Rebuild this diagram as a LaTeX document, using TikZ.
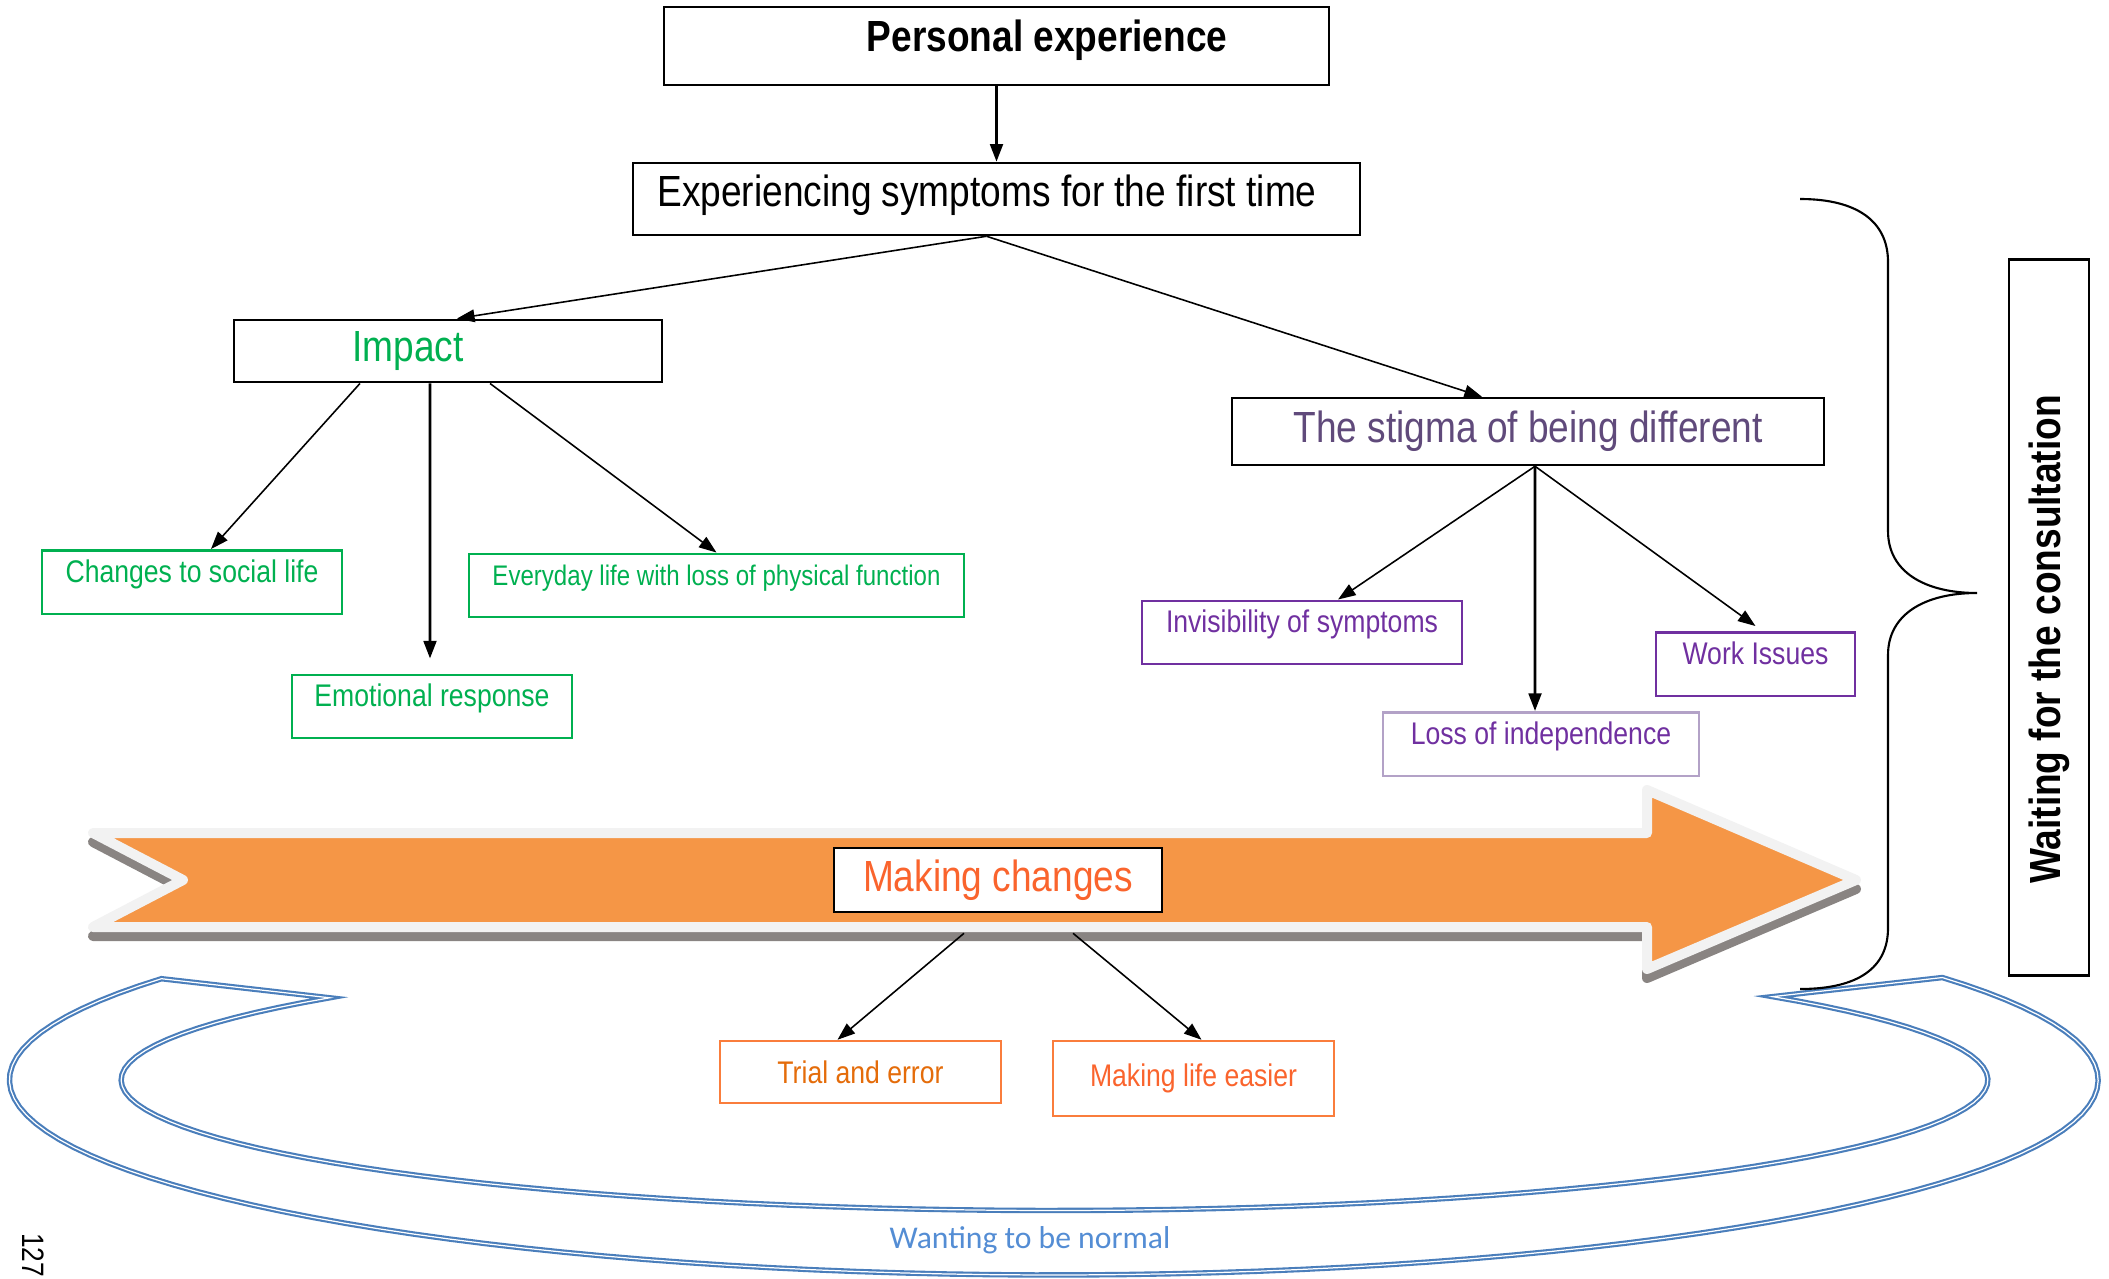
\documentclass[tikz,border=0pt]{standalone}
\usepackage{fontspec}
\setmainfont{Liberation Sans}[FakeStretch=0.85]
\newfontfamily\calibrilike{Carlito}
\usepackage{tikz}
\usetikzlibrary{arrows.meta}
\definecolor{impgreen}{RGB}{0,176,80}
\definecolor{stigmatext}{RGB}{96,74,123}
\definecolor{stigpurple}{RGB}{112,48,160}
\definecolor{lightpurple}{RGB}{179,162,199}
\definecolor{changered}{RGB}{250,100,45}
\definecolor{trialorange}{RGB}{228,108,10}
\definecolor{boxorange}{RGB}{250,125,60}
\definecolor{bandorange}{RGB}{245,150,70}
\definecolor{bandrim}{RGB}{242,242,242}
\definecolor{bandshadow}{RGB}{137,132,130}
\definecolor{loopblue}{RGB}{74,126,187}
\definecolor{looptext}{RGB}{84,141,212}

\begin{document}
\begin{tikzpicture}[x=0.01cm,y=-0.01cm,
  head/.style={draw,line width=0.7pt,font=\fontsize{12.4}{14}\selectfont},
  branch/.style={draw,line width=0.7pt,minimum height=0.62cm,font=\fontsize{8.9}{10}\selectfont},
  leaf/.style={branch,text height=0.2cm,text depth=0.2cm},
  link/.style={-{Triangle[length=5pt,width=3.6pt]},line width=0.45pt},
  mainlink/.style={link,line width=0.8pt}]
\useasboundingbox (0,0) rectangle (2109,1279);
\draw[loopblue,double=white,double distance=0.35pt,line width=0.6pt]
  plot[domain=-31.7:211.3,samples=100] ({1053.8+1044.4*cos(\x)},{1080+195*sin(\x)})
  -- plot[domain=-219.05:39.7,samples=100] ({1054.5+933.4*cos(-\x)},{1080+130.5*sin(-\x)})
  -- cycle;
\draw[bandshadow,fill=bandshadow,line width=0.1cm,line join=round,shift={(0,9)}]
  (93,833) -- (183,880) -- (93,927) -- (1647,927) -- (1647,969) -- (1856,880) -- (1647,790) -- (1647,833) -- cycle;
\draw[bandrim,fill=bandorange,line width=0.1cm,line join=round]
  (93,833) -- (183,880) -- (93,927) -- (1647,927) -- (1647,969) -- (1856,880) -- (1647,790) -- (1647,833) -- cycle;
\draw[line width=0.6pt] (1800,199) .. controls (1858,199) and (1888,222) .. (1888,262) -- (1888,531)
  .. controls (1888,572) and (1925,593) .. (1977,593) .. controls (1925,593) and (1888,614) .. (1888,655)
  -- (1888,928) .. controls (1888,968) and (1858,989) .. (1800,989);
\node[head,minimum width=6.65cm,minimum height=0.78cm,text depth=0.2cm] (pe) at (996.5,46) {\hspace*{1.01cm}\textbf{Personal experience}};
\node[head,minimum width=7.27cm,minimum height=0.72cm,text depth=0.17cm] (exp) at (996.5,199) {Experiencing symptoms for the first time\hspace*{0.19cm}};
\node[head,text=impgreen,minimum width=4.28cm,minimum height=0.62cm] (impact) at (448,351) {Impact\hspace*{0.8cm}};
\node[head,text=stigmatext,minimum width=5.92cm,minimum height=0.67cm] (stigma) at (1528,431.5) {The stigma of being different};
\node[head,text=changered,fill=white,minimum width=3.28cm,minimum height=0.62cm] (mc) at (998,880) {Making changes};
\node[leaf,draw=impgreen,text=impgreen,minimum width=3cm] (social) at (192,582) {Changes to social life};
\node[leaf,draw=impgreen,text=impgreen,minimum width=4.95cm,minimum height=0.63cm,font=\fontsize{8.05}{10}\selectfont] (everyday) at (716.5,585.5) {Everyday life with loss of physical function};
\node[leaf,draw=impgreen,text=impgreen,minimum width=2.8cm,minimum height=0.63cm] (emotion) at (432,706.5) {Emotional response};
\node[leaf,draw=stigpurple,text=stigpurple,minimum width=3.2cm,minimum height=0.63cm] (invisible) at (1302,632.5) {Invisibility of symptoms};
\node[leaf,draw=stigpurple,text=stigpurple,minimum width=1.99cm] (work) at (1755.5,664) {Work Issues};
\node[leaf,draw=lightpurple,text=stigpurple,minimum width=3.16cm] (independence) at (1541,744) {Loss of independence};
\node[branch,draw=boxorange,text=trialorange,minimum width=2.81cm] (trial) at (860.5,1072) {Trial and error};
\node[branch,draw=boxorange,text=changered,minimum width=2.81cm,minimum height=0.75cm] (easier) at (1193.5,1078.5) {Making life easier};
\node[draw,line width=0.8pt,rotate=90,minimum width=7.15cm,minimum height=0.8cm,font=\fontsize{12.4}{14}\selectfont\bfseries] (wait) at (2049,617.5) {Waiting for the consultation\hspace*{0.44cm}};
\node[font=\calibrilike\fontsize{9}{11}\selectfont,text=looptext] (wanting) at (1030,1240) {Wanting to be normal};
\node[rotate=-90,font=\fontsize{8.8}{10}\selectfont] (pagenum) at (33,1255) {127};
\draw[mainlink] (pe.south) -- (exp.north);
\draw[link] ([xshift=-0.1cm]exp.south) -- ([xshift=0.09cm]impact.north);
\draw[link] ([xshift=-0.1cm]exp.south) -- ([xshift=-0.46cm]stigma.north);
\draw[link] ([xshift=-0.88cm]impact.south) -- ([xshift=0.19cm]social.north);
\draw[mainlink] ([xshift=-0.18cm]impact.south) -- ([xshift=-0.02cm,yshift=0.15cm]emotion.north);
\draw[link] ([xshift=0.42cm]impact.south) -- (everyday.north);
\draw[link] ([xshift=0.07cm]stigma.south) -- ([xshift=0.36cm]invisible.north);
\draw[mainlink] ([xshift=0.07cm]stigma.south) -- ([xshift=-0.06cm]independence.north);
\draw[link] ([xshift=0.07cm]stigma.south) -- ([yshift=0.05cm]work.north);
\draw[link] ([xshift=-0.34cm,yshift=-0.2cm]mc.south) -- ([xshift=-0.23cm]trial.north);
\draw[link] ([xshift=0.75cm,yshift=-0.2cm]mc.south) -- ([xshift=0.08cm]easier.north);
\end{tikzpicture}
\end{document}
